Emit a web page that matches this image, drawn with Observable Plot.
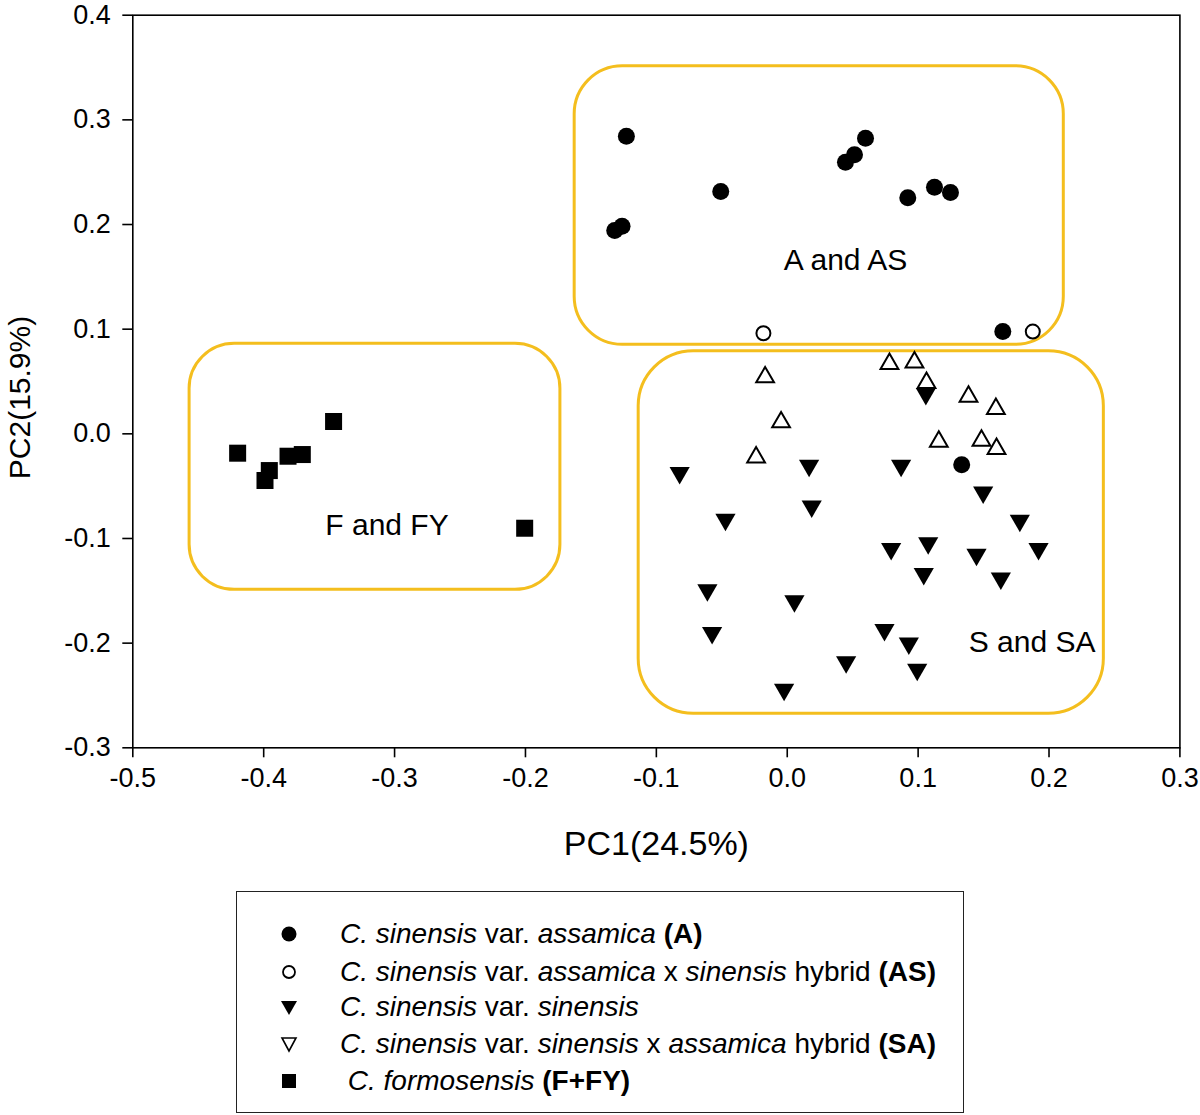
<!DOCTYPE html>
<html>
<head>
<meta charset="utf-8">
<script src="https://cdn.jsdelivr.net/npm/d3@7"></script>
<script src="https://cdn.jsdelivr.net/npm/@observablehq/plot@0.6"></script>
<style>
  html, body { margin: 0; padding: 0; background: #fff; }
  body { width: 1200px; height: 1115px; position: relative; overflow: hidden; font-family: "Liberation Sans", Arial, sans-serif; }
  #chart { position: absolute; left: 0; top: 0; }
  #legend { position: absolute; left: 236px; top: 891px; width: 728px; height: 222px; border: 1.5px solid #222; box-sizing: border-box; font-size: 28px; color: #000; }
  .row { position: absolute; left: 0; height: 32px; line-height: 32px; white-space: nowrap; }
  .row svg { position: absolute; left: 40px; top: 4px; }
  .row span.t { position: absolute; left: 103px; top: 0; }
</style>
</head>
<body>
<div id="chart"></div>
<div id="legend"></div>
<script>
// ---- data ----
const xTicks = [-0.5, -0.4, -0.3, -0.2, -0.1, 0.0, 0.1, 0.2, 0.3];
const yTicks = [-0.3, -0.2, -0.1, 0.0, 0.1, 0.2, 0.3, 0.4];

// C. sinensis var. assamica (A)
const aX = [-0.1229, -0.0508, 0.0598, 0.0514, 0.0445, 0.0921, 0.1125, 0.1247, -0.1262, -0.1318, 0.1647, 0.1333];
const aY = [0.2844, 0.2315, 0.2825, 0.2666, 0.2595, 0.2255, 0.2356, 0.2306, 0.1984, 0.1942, 0.0977, -0.0296];
// assamica x sinensis hybrid (AS)
const asX = [-0.0182, 0.1876];
const asY = [0.0961, 0.0977];
// C. sinensis var. sinensis (S)
const sX = [0.1059, -0.0822, 0.0167, 0.0870, 0.1497, -0.0472, 0.0187, 0.1777, 0.0794, 0.1077, 0.1446, 0.1920, 0.1043, 0.1632, -0.0610, 0.0055, -0.0574, 0.0743, 0.0929, 0.0450, 0.0993, -0.0024];
const sY = [0.0382, -0.0373, -0.0303, -0.0303, -0.0558, -0.0819, -0.0692, -0.0828, -0.1099, -0.1045, -0.1153, -0.1099, -0.1338, -0.1380, -0.1494, -0.1599, -0.1902, -0.1873, -0.2001, -0.2182, -0.2252, -0.2443];
// sinensis x assamica hybrid (SA)
const saX = [-0.0169, 0.0781, 0.0972, 0.1064, 0.1385, 0.1594, -0.0047, 0.1158, 0.1484, 0.1599, -0.0238];
const saY = [0.0541, 0.0669, 0.0684, 0.0487, 0.0356, 0.0239, 0.0111, -0.0074, -0.0064, -0.0143, -0.0224];
// C. formosensis (F+FY)
const fX = [-0.3466, -0.4199, -0.3705, -0.3814, -0.3957, -0.3990, -0.2006];
const fY = [0.0118, -0.0185, -0.0198, -0.0214, -0.0351, -0.0446, -0.0902];

// group boxes and labels
const boxLabels = ["A and AS", "S and SA", "F and FY"];
const boxX1 = [-0.1624, -0.1135, -0.4566];
const boxX2 = [0.2113, 0.2419, -0.1733];
const boxY1 = [0.0850, -0.2675, -0.1491];
const boxY2 = [0.3512, 0.0789, 0.0860];
const labelX = [0.0445, 0.1871, -0.3058];
const labelY = [0.1656, -0.1991, -0.0876];

const xLabel = "PC1(24.5%)";
const yLabel = "PC2(15.9%)";

const legendItems = [
  '<i>C. sinensis</i> var. <i>assamica</i> <b>(A)</b>',
  '<i>C. sinensis</i> var. <i>assamica</i> x <i>sinensis</i> hybrid <b>(AS)</b>',
  '<i>C. sinensis</i> var. <i>sinensis</i>',
  '<i>C. sinensis</i> var. <i>sinensis</i> x <i>assamica</i> hybrid <b>(SA)</b>',
  '&nbsp;<i>C. formosensis</i> <b>(F+FY)</b>'
];

// ---- build ----
const pts = (xs, ys) => xs.map((x, i) => ({x, y: ys[i]}));
const boxes = boxLabels.map((l, i) => ({label: l, x1: boxX1[i], x2: boxX2[i], y1: boxY1[i], y2: boxY2[i], lx: labelX[i], ly: labelY[i]}));
const gold = "#F4BE1E";

const triangleDown = {
  draw(context, size) {
    const y = Math.sqrt(size / (Math.sqrt(3) * 3));
    const s3 = Math.sqrt(3);
    context.moveTo(0, 2 * y);
    context.lineTo(-s3 * y, -y);
    context.lineTo(s3 * y, -y);
    context.closePath();
  }
};

const fontFamily = '"Liberation Sans", Arial, sans-serif';

const chart = Plot.plot({
  width: 1200,
  height: 870,
  marginLeft: 132.3,
  marginRight: 20.6,
  marginTop: 14.7,
  marginBottom: 122.7,
  style: {fontFamily, background: "white", color: "black"},
  x: {domain: [-0.5, 0.3]},
  y: {domain: [-0.3, 0.4]},
  marks: [
    ...boxes.map((b, i) => Plot.rect([b], {x1: "x1", x2: "x2", y1: "y1", y2: "y2", rx: [48, 55, 45][i], fill: "none", stroke: gold, strokeWidth: 3})),
    Plot.text(boxes, {x: "lx", y: "ly", text: "label", fontSize: 30, textAnchor: "middle", lineAnchor: "middle", fill: "black"}),
    Plot.frame({stroke: "black", strokeWidth: 1.6}),
    Plot.axisX({ticks: xTicks, tickFormat: d => d.toFixed(1), tickSize: 10, tickPadding: 10, fontSize: 27, label: null, strokeWidth: 1.6}),
    Plot.axisY({ticks: yTicks, tickFormat: d => d.toFixed(1), tickSize: 10, tickPadding: 12, fontSize: 27, label: null, strokeWidth: 1.6}),
    Plot.text([xLabel], {frameAnchor: "bottom", dy: 96, text: d => d, fontSize: 34, lineAnchor: "middle", textAnchor: "middle"}),
    Plot.text([yLabel], {frameAnchor: "left", dx: -112, dy: 16, text: d => d, fontSize: 30, rotate: -90, lineAnchor: "middle", textAnchor: "middle"}),
    Plot.dot(pts(fX, fY), {x: "x", y: "y", symbol: "square", r: 9.6, fill: "black"}),
    Plot.dot(pts(sX, sY), {x: "x", y: "y", symbol: triangleDown, r: 7.5, fill: "black"}),
    Plot.dot(pts(saX, saY), {x: "x", y: "y", symbol: "triangle", r: 6.6, fill: "white", stroke: "black", strokeWidth: 2}),
    Plot.dot(pts(aX, aY), {x: "x", y: "y", symbol: "circle", r: 8.5, fill: "black"}),
    Plot.dot(pts(asX, asY), {x: "x", y: "y", symbol: "circle", r: 7, fill: "none", stroke: "black", strokeWidth: 2})
  ]
});
document.getElementById("chart").appendChild(chart);

// legend
const legendSymbols = [
  '<circle cx="12" cy="12" r="7.5" fill="black"/>',
  '<circle cx="12" cy="12" r="6" fill="none" stroke="black" stroke-width="1.8"/>',
  '<path d="M4,6 L20,6 L12,20 Z" fill="black"/>',
  '<path d="M5,6 L19,6 L12,19 Z" fill="none" stroke="black" stroke-width="1.6"/>',
  '<rect x="5" y="5" width="14" height="14" fill="black"/>'
];
const rowCenters = [42, 80, 115, 152, 189];
const legend = document.getElementById("legend");
legendItems.forEach((html, i) => {
  const row = document.createElement("div");
  row.className = "row";
  row.style.top = (rowCenters[i] - 16) + "px";
  row.innerHTML = `<svg width="24" height="24" viewBox="0 0 24 24">${legendSymbols[i]}</svg><span class="t">${html}</span>`;
  legend.appendChild(row);
});
</script>
</body>
</html>
